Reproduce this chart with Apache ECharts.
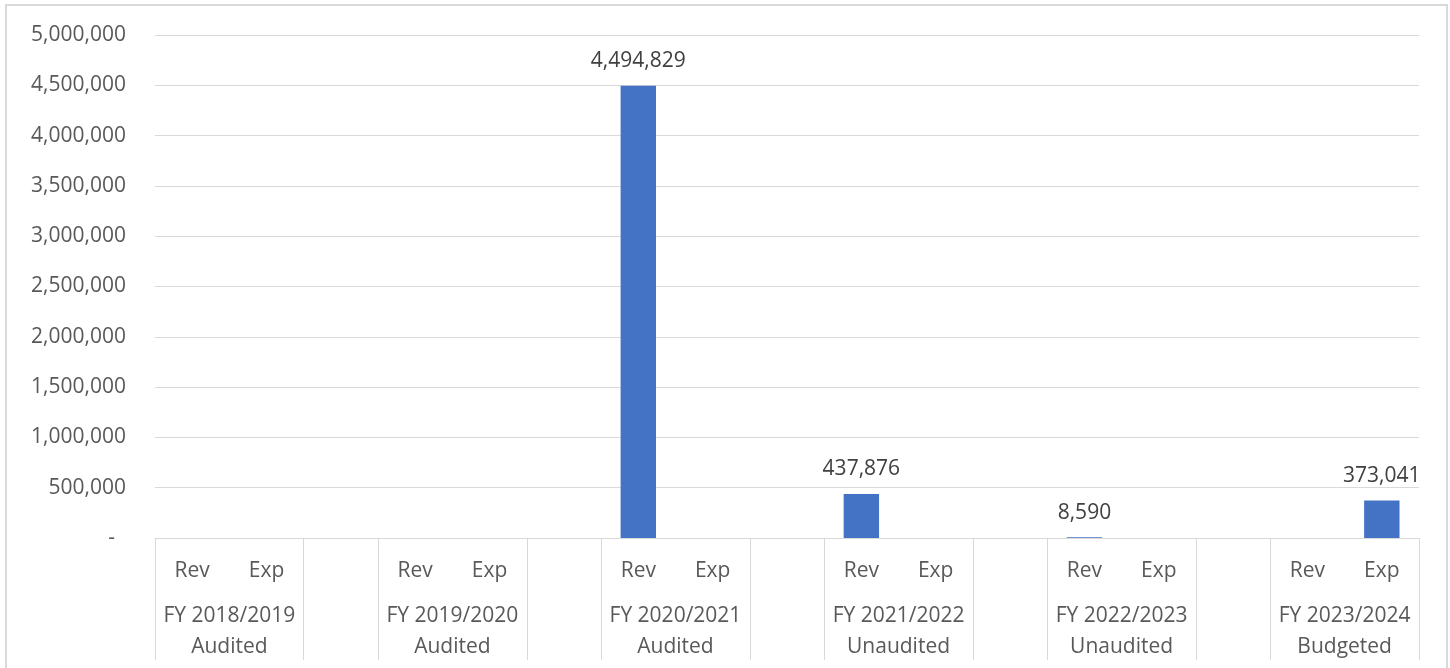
<!DOCTYPE html>
<html>
<head>
<meta charset="utf-8">
<script src="https://cdn.jsdelivr.net/npm/echarts@6/dist/echarts.min.js"></script>
<style>
html,body{margin:0;padding:0;background:#fff;}
#chart{width:1450px;height:668px;position:absolute;left:0;top:0;}
#frame{position:absolute;left:5px;top:4px;width:1439px;height:700px;border:2px solid #d9d9d9;pointer-events:none;}
</style>
</head>
<body>
<div id="chart"></div>
<div id="frame"></div>
<script>
// Inner-level categories (Rev / Exp per fiscal year, blank spacer between years)
const subCategories = ['Rev','Exp','', 'Rev','Exp','', 'Rev','Exp','', 'Rev','Exp','', 'Rev','Exp','', 'Rev','Exp'];
// Outer-level group labels
const groupLabels = ['FY 2018/2019\nAudited','FY 2019/2020\nAudited','FY 2020/2021\nAudited','FY 2021/2022\nUnaudited','FY 2022/2023\nUnaudited','FY 2023/2024\nBudgeted'];
// Values per inner category
const amounts = [null,null,null, null,null,null, 4494829,null,null, 437876,null,null, 8590,null,null, null,373041];
// Y-axis ticks
const yMin = 0, yMax = 5000000, yStep = 500000;

// Build outer-level axis on half-category positions (35 points across 17 categories)
const nHalf = subCategories.length * 2 + 1;
const groupAxisData = [];
const groupTickIdx = new Set();
let pos = 0;
for (let i = 0; i < nHalf; i++) groupAxisData.push('');
for (let k = 0; k < groupLabels.length; k++) {
  groupTickIdx.add(pos * 2);
  groupAxisData[pos * 2 + 2] = groupLabels[k];
  pos += 2;
  groupTickIdx.add(pos * 2);
  pos += 1;
}
const font = 'Open Sans';
const txt = '#595959';
const chart = echarts.init(document.getElementById('chart'));
chart.setOption({
  animation: false,
  textStyle: { fontFamily: font },
  grid: { left: 155, right: 31, top: 35, bottom: 130 },
  xAxis: [
    {
      type: 'category',
      data: subCategories,
      position: 'bottom',
      axisLine: { show: true, lineStyle: { color: '#d9d9d9', width: 1 } },
      axisTick: { show: false },
      axisLabel: { interval: 0, margin: 23, fontSize: 21, color: txt, fontFamily: font }
    },
    {
      type: 'category',
      data: groupAxisData,
      position: 'bottom',
      boundaryGap: false,
      axisLine: { show: false },
      axisTick: {
        show: true, length: 122, lineStyle: { color: '#d9d9d9', width: 1 },
        interval: function (idx) { return groupTickIdx.has(idx); }
      },
      axisLabel: { interval: 0, margin: 63, fontSize: 21, lineHeight: 31, color: txt, fontFamily: font, align: 'center' },
      splitLine: { show: false }
    }
  ],
  yAxis: {
    type: 'value',
    min: yMin, max: yMax, interval: yStep,
    axisLine: { show: false },
    axisTick: { show: false },
    splitLine: { lineStyle: { color: '#d9d9d9', width: 1 } },
    axisLabel: {
      margin: 29, fontSize: 21, color: txt, fontFamily: font,
      formatter: function (v) { return v === 0 ? '-  ' : v.toLocaleString('en-US'); }
    }
  },
  series: [{
    type: 'bar',
    xAxisIndex: 0,
    data: amounts,
    barWidth: '47.6%',
    itemStyle: { color: '#4472C4' },
    label: {
      show: true, position: 'top', distance: 14, fontSize: 21, color: '#404040', fontFamily: font,
      formatter: function (p) { return p.value == null ? '' : p.value.toLocaleString('en-US'); }
    }
  }]
});
</script>
</body>
</html>
